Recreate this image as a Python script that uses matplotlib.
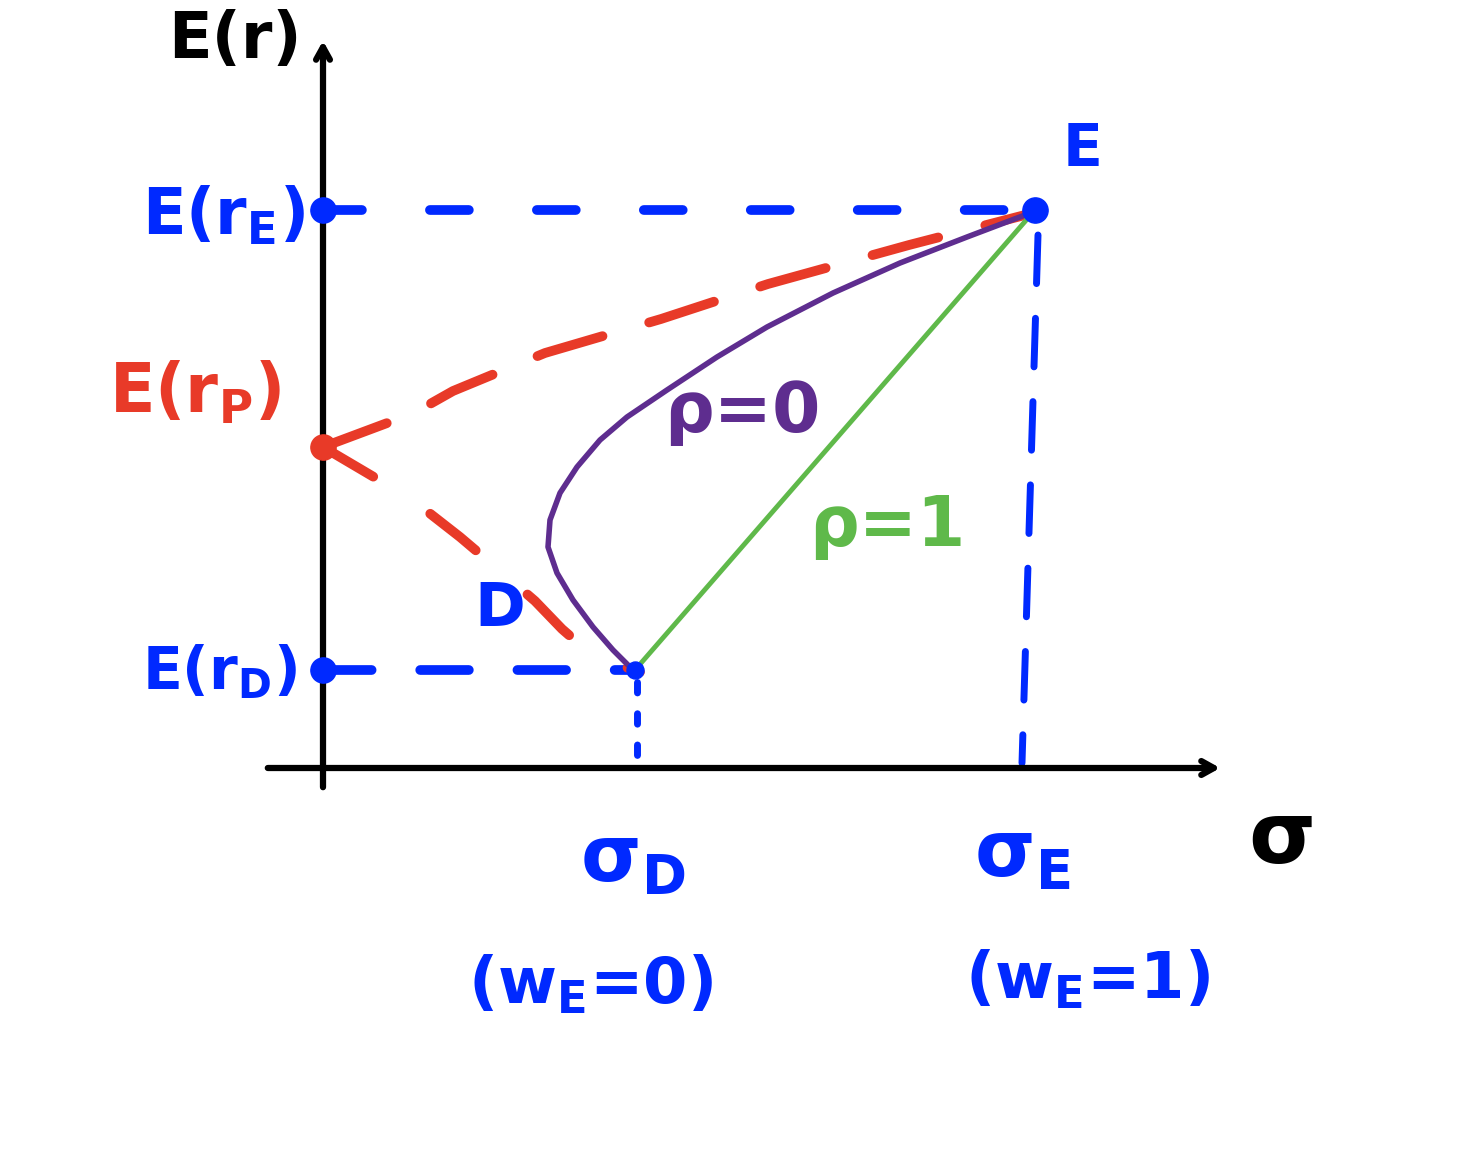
import matplotlib.pyplot as plt

# sketch of two-asset portfolio frontier (units: sigma, E(r))
sigma_D, sigma_E = 3.12, 7.12
ret_D, ret_E, ret_P = 0.98, 5.58, 3.21

# rho = 0 curve
rho0_sigma = [3.10, 2.90, 2.70, 2.50, 2.34, 2.25, 2.27, 2.37, 2.54, 2.77, 3.04, 3.44,
              3.94, 4.44, 5.10, 5.77, 6.44, 7.10]
rho0_ret = [0.98, 1.18, 1.41, 1.68, 1.95, 2.21, 2.48, 2.75, 3.01, 3.28, 3.51, 3.78,
            4.11, 4.41, 4.75, 5.05, 5.31, 5.56]

# red dashed lines out of E(r_P)
upper_sigma = [0.0, 0.91, 1.30, 2.22, 3.38, 4.45, 5.86, 7.02, 7.12]
upper_ret = [3.21, 3.55, 3.77, 4.15, 4.49, 4.84, 5.23, 5.53, 5.58]
lower_sigma = [0.0, 0.61, 1.05, 1.37, 1.83, 2.12, 2.39, 2.70, 3.17]
lower_ret = [3.21, 2.85, 2.56, 2.31, 1.92, 1.67, 1.39, 1.12, 0.96]

blue = '#0029ff'
red = '#e83a28'
purple = '#5e2d8f'
green = '#5fb94a'

plt.rcParams['font.family'] = 'DejaVu Sans'
plt.rcParams['font.weight'] = 'bold'
plt.rcParams['mathtext.default'] = 'bf'

fig = plt.figure(figsize=(14.79, 11.6), dpi=100)
ax = fig.add_axes([0, 0, 1, 1])
ax.set_xlim(-3.23, 11.56)
ax.set_ylim(-3.92, 7.68)
ax.axis('off')

# axes with arrows
ax.annotate('', xy=(9.0, 0), xytext=(-0.58, 0),
            arrowprops=dict(arrowstyle='->,head_length=0.9,head_width=0.5', lw=4.5, color='black'))
ax.annotate('', xy=(0, 7.3), xytext=(0, -0.22),
            arrowprops=dict(arrowstyle='->,head_length=0.9,head_width=0.5', lw=4.5, color='black'))

# blue guide lines
ax.plot([0, sigma_E], [ret_E, ret_E], color=blue, lw=7, ls=(0, (4, 7)), dash_capstyle='round')
ax.plot([0, sigma_D], [ret_D, ret_D], color=blue, lw=7, ls=(0, (5, 5)), dash_capstyle='round')
ax.plot([sigma_E + 0.03, sigma_E - 0.13], [ret_E - 0.25, 0.05], color=blue, lw=5,
        ls=(0, (7, 5)), dash_capstyle='round')
ax.plot([sigma_D + 0.02, sigma_D + 0.02], [ret_D - 0.12, 0.05], color=blue, lw=5,
        ls=(0, (1.5, 3)), dash_capstyle='round')

# frontiers
ax.plot(upper_sigma, upper_ret, color=red, lw=7, ls=(0, (7, 5)), dash_capstyle='round')
ax.plot(lower_sigma, lower_ret, color=red, lw=7, ls=(0, (6, 7)), dash_capstyle='round')
ax.plot(rho0_sigma, rho0_ret, color=purple, lw=4, solid_capstyle='round', solid_joinstyle='round')
ax.plot([sigma_D, sigma_E], [ret_D, ret_E], color=green, lw=3.5)

# points
ax.scatter([0, 0, sigma_E], [ret_E, ret_D, ret_E], s=330, color=blue, zorder=5)
ax.scatter([sigma_D], [ret_D], s=150, color=blue, zorder=5)
ax.scatter([0], [ret_P], s=330, color=red, zorder=5)

# labels
ax.text(-0.88, 7.28, 'E(r)', fontsize=46, color='black', ha='center', va='center')
ax.text(-1.0, 5.52, 'E(r$_E$)', fontsize=46, color=blue, ha='center', va='center')
ax.text(-1.28, 3.75, 'E(r$_P$)', fontsize=48, color=red, ha='center', va='center')
ax.text(-1.03, 0.96, 'E(r$_D$)', fontsize=42, color=blue, ha='center', va='center')
ax.text(1.77, 1.58, 'D', fontsize=44, color=blue, ha='center', va='center')
ax.text(7.6, 6.18, 'E', fontsize=42, color=blue, ha='center', va='center')
ax.text(4.19, 3.55, 'ρ=0', fontsize=50, color=purple, ha='center', va='center')
ax.text(5.64, 2.41, 'ρ=1', fontsize=50, color=green, ha='center', va='center')
ax.text(3.1, -0.92, 'σ$_D$', fontsize=56, color=blue, ha='center', va='center')
ax.text(6.99, -0.87, 'σ$_E$', fontsize=56, color=blue, ha='center', va='center')
ax.text(2.67, -2.17, '(w$_E$=0)', fontsize=46, color=blue, ha='center', va='center')
ax.text(7.64, -2.12, '(w$_E$=1)', fontsize=46, color=blue, ha='center', va='center')
ax.text(9.59, -0.72, 'σ', fontsize=62, color='black', ha='center', va='center')

fig.savefig('out.png', dpi=100)
